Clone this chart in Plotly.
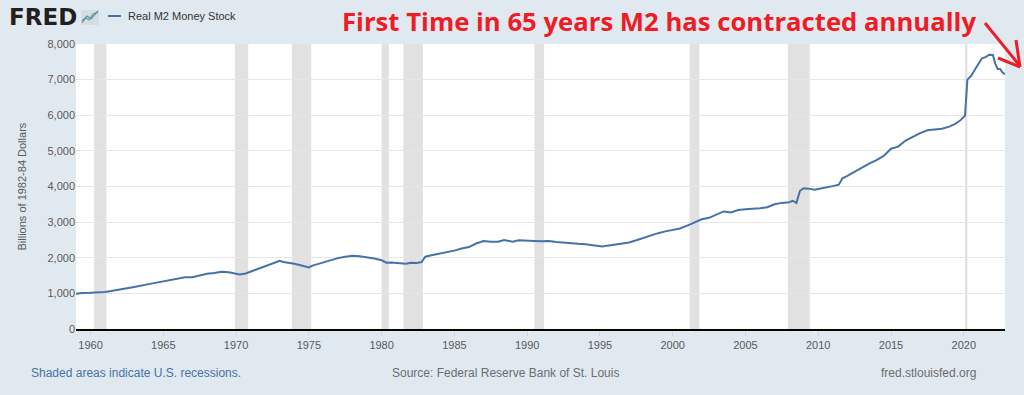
import plotly.graph_objects as go

# ---- data ----
dates = [
    "1959-01", "1959-06", "1960-01", "1960-06", "1961-01", "1961-06", "1962-01", "1963-01",
    "1964-01", "1965-01", "1966-01", "1966-07", "1967-01", "1967-07", "1968-01", "1968-07",
    "1969-01", "1969-07", "1970-01", "1970-04", "1970-09", "1971-01", "1971-07", "1972-01",
    "1972-07", "1973-01", "1973-04", "1973-08", "1974-01", "1974-07", "1975-01", "1975-04",
    "1975-08", "1976-01", "1976-07", "1977-01", "1977-07", "1978-01", "1978-07", "1979-01",
    "1979-07", "1980-01", "1980-05", "1980-09", "1981-01", "1981-05", "1981-09", "1982-01",
    "1982-06", "1982-10", "1983-01", "1983-06", "1984-01", "1984-07", "1985-01", "1985-07",
    "1986-01", "1986-07", "1987-01", "1987-07", "1988-01", "1988-06", "1989-01", "1989-06",
    "1990-01", "1990-07", "1991-01", "1991-07", "1992-01", "1992-07", "1993-01", "1993-07",
    "1994-01", "1994-07", "1995-03", "1995-07", "1996-01", "1996-07", "1997-01", "1997-07",
    "1998-01", "1998-07", "1999-01", "1999-07", "2000-01", "2000-07", "2001-01", "2001-07",
    "2002-01", "2002-07", "2003-01", "2003-07", "2004-01", "2004-07", "2005-01", "2005-07",
    "2006-01", "2006-07", "2007-01", "2007-07", "2008-01", "2008-04", "2008-07", "2008-10",
    "2009-01", "2009-05", "2009-10", "2010-01", "2010-07", "2011-01", "2011-06", "2011-09",
    "2012-01", "2012-07", "2013-01", "2013-07", "2014-01", "2014-07", "2015-01", "2015-07",
    "2016-01", "2016-07", "2017-01", "2017-07", "2018-01", "2018-07", "2019-01", "2019-06",
    "2019-10", "2020-02", "2020-04", "2020-07", "2020-10", "2021-01", "2021-04", "2021-07",
    "2021-10", "2022-01", "2022-03", "2022-05", "2022-07", "2022-09", "2022-11",
]
values = [
    990, 1010, 1015, 1020, 1040, 1065, 1100, 1180,
    1260, 1340, 1420, 1450, 1455, 1510, 1550, 1575,
    1610, 1590, 1560, 1530, 1560, 1610, 1690, 1760,
    1850, 1915, 1880, 1860, 1830, 1780, 1730, 1780,
    1820, 1860, 1940, 1990, 2030, 2055, 2045, 2020,
    1980, 1930, 1860, 1870, 1850, 1850, 1830, 1860,
    1850, 1880, 2030, 2070, 2110, 2150, 2200, 2260,
    2300, 2400, 2470, 2450, 2450, 2500, 2450, 2490,
    2490, 2470, 2460, 2470, 2440, 2420, 2395, 2390,
    2380, 2360, 2315, 2340, 2370, 2390, 2430, 2490,
    2560, 2640, 2690, 2740, 2770, 2820, 2900, 3000,
    3080, 3120, 3220, 3300, 3270, 3340, 3360, 3370,
    3390, 3420, 3500, 3540, 3560, 3600, 3540, 3880,
    3950, 3940, 3910, 3930, 3960, 4010, 4050, 4230,
    4300, 4420, 4530, 4640, 4740, 4860, 5060, 5120,
    5290, 5400, 5500, 5580, 5600, 5620, 5680, 5760,
    5850, 5990, 7000, 7100, 7270, 7440, 7600, 7630,
    7700, 7690, 7450, 7300, 7300, 7200, 7150,
]
recession_starts = ["1960-04-01", "1969-12-01", "1973-11-01", "1980-01-01", "1981-07-01",
                    "1990-07-01", "2001-03-01", "2007-12-01", "2020-02-01"]
recession_ends = ["1961-02-01", "1970-11-01", "1975-03-01", "1980-07-01", "1982-11-01",
                  "1991-03-01", "2001-11-01", "2009-06-01", "2020-04-01"]
x_tick_vals = ["%d-01-01" % y for y in range(1960, 2021, 5)]
x_tick_text = [str(y) for y in range(1960, 2021, 5)]
y_tick_vals = [0, 1000, 2000, 3000, 4000, 5000, 6000, 7000, 8000]
y_tick_text = ["0", "1,000", "2,000", "3,000", "4,000", "5,000", "6,000", "7,000", "8,000"]

BG = "#e1e9f0"
LINE = "#4572a7"
TXT = "#595959"
RED = "#ee1c25"

fig = go.Figure()
fig.add_trace(go.Scatter(
    x=dates, y=values, mode="lines",
    line=dict(color=LINE, width=2),
    name="Real M2 Money Stock", showlegend=False,
))

shapes = []
for s, e in zip(recession_starts, recession_ends):
    shapes.append(dict(type="rect", xref="x", yref="paper", x0=s, x1=e, y0=0, y1=1,
                       fillcolor="#e1e1e1", line=dict(width=0), layer="below"))

ix = lambda px: (px - 76) / 929
iy = lambda py: (329 - py) / 285

# legend line sample
shapes.append(dict(type="line", xref="paper", yref="paper",
                   x0=ix(108), x1=ix(121), y0=iy(16), y1=iy(16),
                   line=dict(color=LINE, width=2)))
# small FRED chart icon
shapes.append(dict(type="rect", xref="paper", yref="paper",
                   x0=ix(81), x1=ix(99), y0=iy(25), y1=iy(10),
                   fillcolor="#d5dde5", line=dict(width=0)))
shapes.append(dict(type="path", xref="paper", yref="paper",
                   path="M %f,%f L %f,%f L %f,%f L %f,%f L %f,%f" % (
                       ix(82), iy(23), ix(86), iy(18), ix(89), iy(20), ix(93), iy(14), ix(98), iy(12)),
                   line=dict(color="#6aa84f", width=1.2)))
shapes.append(dict(type="path", xref="paper", yref="paper",
                   path="M %f,%f L %f,%f L %f,%f L %f,%f" % (
                       ix(82), iy(21), ix(87), iy(16), ix(91), iy(19), ix(98), iy(11)),
                   line=dict(color="#5b8ec7", width=1.2)))
# red arrow
shapes.append(dict(type="line", xref="paper", yref="paper",
                   x0=ix(985), y0=iy(23), x1=ix(1020), y1=iy(66),
                   line=dict(color=RED, width=3)))
shapes.append(dict(type="line", xref="paper", yref="paper",
                   x0=ix(998), y0=iy(58), x1=ix(1020), y1=iy(67),
                   line=dict(color=RED, width=3)))
shapes.append(dict(type="line", xref="paper", yref="paper",
                   x0=ix(1016), y0=iy(40), x1=ix(1020), y1=iy(67),
                   line=dict(color=RED, width=3)))

annotations = [
    dict(text="<b>FRED</b>", xref="paper", yref="paper", x=ix(7), y=iy(17),
         xanchor="left", yanchor="middle", showarrow=False,
         font=dict(family="DejaVu Sans", size=23, color="#231f20")),
    dict(text="Real M2 Money Stock", xref="paper", yref="paper", x=ix(126), y=iy(16),
         xanchor="left", yanchor="middle", showarrow=False,
         font=dict(family="Liberation Sans", size=11, color="#333333")),
    dict(text="<b>First Time in 65 years M2 has contracted annually</b>", xref="paper", yref="paper",
         x=ix(340), y=iy(22), xanchor="left", yanchor="middle", showarrow=False,
         font=dict(family="Open Sans", size=25.7, color=RED)),
    dict(text="Shaded areas indicate U.S. recessions.", xref="paper", yref="paper",
         x=ix(29), y=iy(373), xanchor="left", yanchor="middle", showarrow=False,
         font=dict(family="Liberation Sans", size=12, color=LINE)),
    dict(text="Source: Federal Reserve Bank of St. Louis", xref="paper", yref="paper",
         x=ix(390), y=iy(373), xanchor="left", yanchor="middle", showarrow=False,
         font=dict(family="Liberation Sans", size=12, color="#6d6d6d")),
    dict(text="fred.stlouisfed.org", xref="paper", yref="paper",
         x=ix(978), y=iy(373), xanchor="right", yanchor="middle", showarrow=False,
         font=dict(family="Liberation Sans", size=12, color="#6d6d6d")),
    dict(text="Billions of 1982-84 Dollars", xref="paper", yref="paper",
         x=ix(21), y=0.5, xanchor="center", yanchor="middle", textangle=-90, showarrow=False,
         font=dict(family="Liberation Sans", size=11, color=TXT)),
]

fig.update_layout(
    width=1024, height=395,
    margin=dict(l=76, r=19, t=44, b=66),
    paper_bgcolor=BG, plot_bgcolor="white",
    showlegend=False,
    shapes=shapes, annotations=annotations,
    font=dict(family="Liberation Sans", size=11, color=TXT),
    xaxis=dict(type="date", range=["1959-01-01", "2022-11-01"],
               tickvals=x_tick_vals, ticktext=x_tick_text,
               showgrid=False, ticks="outside", ticklen=5, tickcolor="#ccd6eb",
               showline=True, linecolor="black", linewidth=2,
               tickfont=dict(family="Liberation Sans", size=11, color=TXT)),
    yaxis=dict(range=[0, 8000], tickvals=y_tick_vals, ticktext=y_tick_text,
               showgrid=True, gridcolor="#e6e6e6", gridwidth=1,
               zeroline=False, showline=False, ticks="",
               tickfont=dict(family="Liberation Sans", size=11, color=TXT)),
)

fig.write_html("out.html", config={"displayModeBar": False},
               post_script="document.body.style.margin='0';document.body.style.overflow='hidden';")
